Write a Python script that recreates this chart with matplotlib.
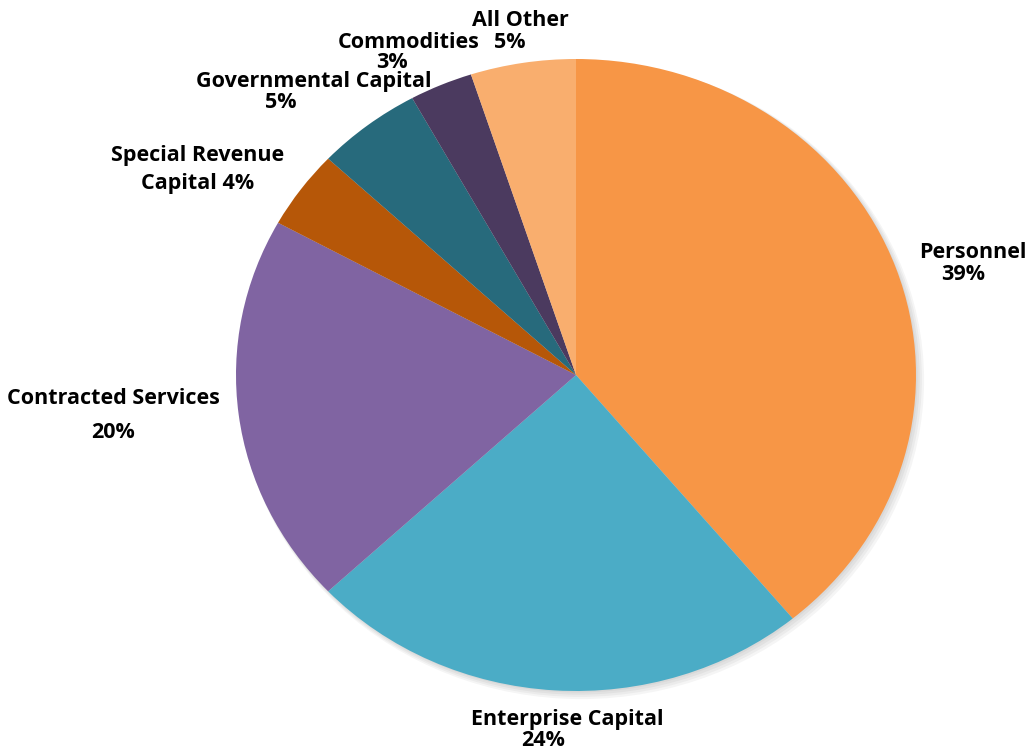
import matplotlib
matplotlib.use("Agg")
import matplotlib.pyplot as plt
from matplotlib.patches import Ellipse

categories = ["Personnel", "Enterprise Capital", "Contracted Services",
              "Special Revenue Capital", "Governmental Capital",
              "Commodities", "All Other"]
shares = [39, 24, 20, 4, 5, 3, 5]
colors = ["#F79646", "#4BACC6", "#8064A2", "#B65708", "#276A7C",
          "#4B3A5F", "#F9AE6E"]

W, H = 1032, 750
CX, CY = 576, 375          # pie centre, pixels
RX, RY = 340, 316          # horizontal / vertical radius, pixels

fig = plt.figure(figsize=(W / 100, H / 100), dpi=100)
ax = fig.add_axes([0, 0, 1, 1])
ax.set_axis_off()


def px(x, y):
    """Pixel position (origin top-left) to data coordinates."""
    return (x - CX) / RX, (CY - y) / RY


# soft drop shadow under the pie
for k, a in enumerate([0.04, 0.04, 0.04, 0.04]):
    off = 1.5 + k * 1.2
    ax.add_patch(Ellipse((off / RX, -off / RY), 2 + 2 * k / RX, 2 + 2 * k / RY,
                         facecolor="#000000", alpha=a, linewidth=0, zorder=0))

ax.pie(shares, colors=colors, startangle=90, counterclock=False,
       radius=1, center=(0, 0),
       wedgeprops=dict(linewidth=0, zorder=1))

ax.set_aspect("auto")
ax.set_xlim(-CX / RX, (W - CX) / RX)
ax.set_ylim(-(H - CY) / RY, CY / RY)

font = dict(family="Open Sans", weight="bold", fontsize=15.5, color="black",
            ha="center", va="center")

label_lines = [
    ("Personnel", 973, 253), ("39%", 963, 274),
    ("Enterprise Capital", 567, 719), ("24%", 543, 740),
    ("Contracted Services", 113, 399), ("20%", 113, 432),
    ("Special Revenue", 198, 155), ("Capital 4%", 198, 183),
    ("Governmental Capital", 314, 82), ("5%", 281, 103),
    ("Commodities", 409, 42), ("3%", 392, 62),
    ("All Other", 520, 21), ("5%", 510, 42),
]
for text, x, y in label_lines:
    ax.text(*px(x, y), text, **font)

fig.savefig("out.png", dpi=100)
